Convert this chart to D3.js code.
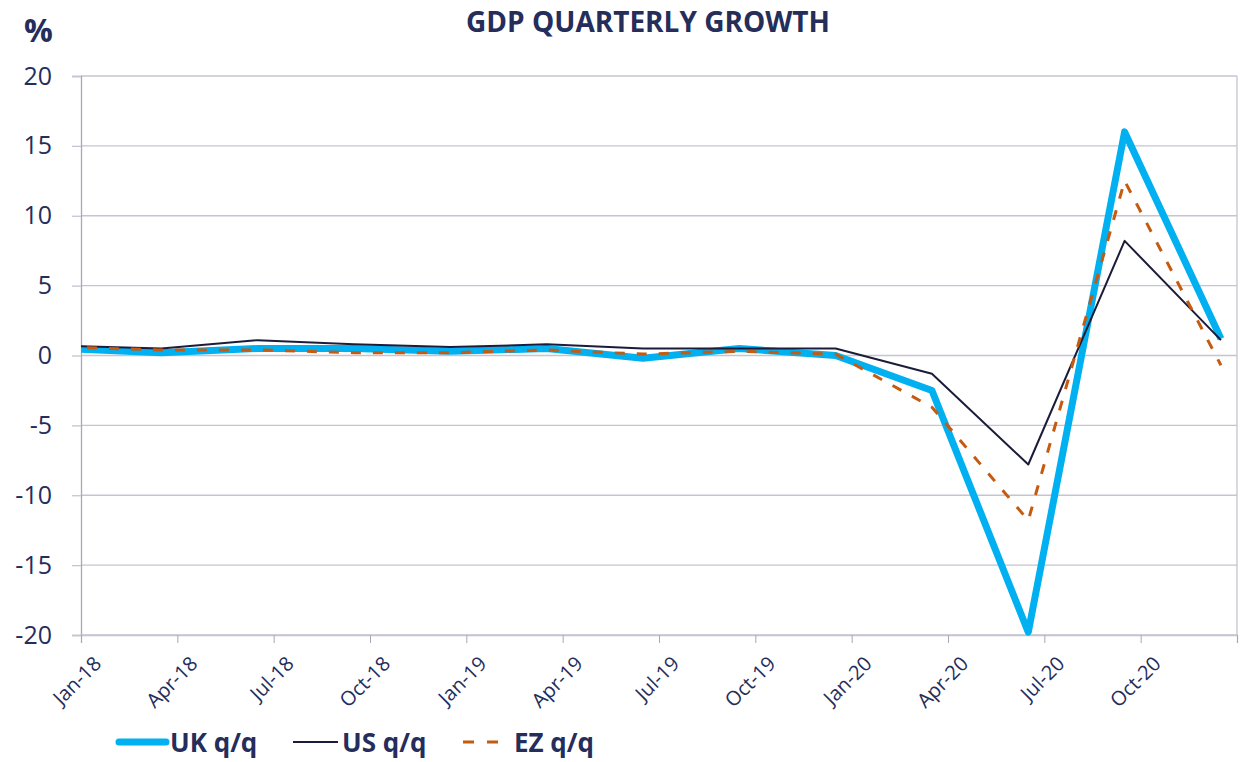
<!DOCTYPE html>
<html>
<head>
<meta charset="utf-8">
<script src="https://cdn.jsdelivr.net/npm/d3@7"></script>
<style>
  body { margin: 0; background: #fff; }
  text { font-family: "Open Sans", sans-serif; }
</style>
</head>
<body>
<div class="chart"></div>
<script>
// quarter-end observations (first one lies just before the axis start)
var quarters = ["Dec-17", "Mar-18", "Jun-18", "Sep-18", "Dec-18", "Mar-19", "Jun-19",
  "Sep-19", "Dec-19", "Mar-20", "Jun-20", "Sep-20", "Dec-20"];
var ukValues = [0.5, 0.2, 0.5, 0.5, 0.3, 0.5, -0.2, 0.5, 0.0, -2.5, -19.8, 16.0, 1.2];
var usValues = [0.7, 0.5, 1.1, 0.8, 0.6, 0.8, 0.5, 0.5, 0.5, -1.3, -7.8, 8.2, 1.1];
var ezValues = [0.6, 0.4, 0.4, 0.2, 0.2, 0.4, 0.1, 0.3, 0.1, -3.7, -11.8, 12.5, -0.7];
var seriesNames = ["UK q/q", "US q/q", "EZ q/q"];
var yTicks = [-20, -15, -10, -5, 0, 5, 10, 15, 20];
var xTickLabels = ["Jan-18", "Apr-18", "Jul-18", "Oct-18", "Jan-19", "Apr-19",
  "Jul-19", "Oct-19", "Jan-20", "Apr-20", "Jul-20", "Oct-20"];

var width = 1245, height = 762;
var margin = { top: 76, right: 8, bottom: 127, left: 81 };
var navy = "#252d5a";
var gridColor = "#c4c4d2";

var parseMonth = d3.timeParse("%b-%y");
function monthIndex(s) {
  var d = parseMonth(s);
  return (d.getFullYear() - 2018) * 12 + d.getMonth();
}

var svg = d3.select(".chart")
  .append("svg")
  .attr("width", width)
  .attr("height", height);

var x = d3.scaleLinear().domain([0, 36]).range([margin.left, width - margin.right]);
var y = d3.scaleLinear().domain([-20, 20]).range([height - margin.bottom, margin.top]);

// gridlines
svg.append("g")
  .selectAll("line")
  .data(yTicks)
  .enter()
  .append("line")
  .attr("x1", x(0))
  .attr("x2", x(36))
  .attr("y1", function (d) { return y(d); })
  .attr("y2", function (d) { return y(d); })
  .style("stroke", gridColor)
  .style("stroke-width", 1.3);

// right border
svg.append("line")
  .attr("x1", x(36)).attr("x2", x(36))
  .attr("y1", y(20)).attr("y2", y(-20))
  .style("stroke", gridColor)
  .style("stroke-width", 1.3);

// y axis
var yAxis = svg.append("g")
  .attr("transform", "translate(" + x(0) + ",0)")
  .call(d3.axisLeft(y).tickValues(yTicks).tickSize(9).tickPadding(20)
    .tickFormat(function (d) { return String(d); }));
yAxis.select(".domain").style("stroke", "#a8a8b8").style("stroke-width", 1.3);
yAxis.selectAll(".tick line").style("stroke", gridColor).style("stroke-width", 1.3);
yAxis.selectAll("text")
  .style("font-size", "25px")
  .style("fill", navy)
  .style("font-family", "'Open Sans', sans-serif");

// x axis
var xTickVals = d3.range(0, 37, 3);
var xAxis = svg.append("g")
  .attr("transform", "translate(0," + y(-20) + ")")
  .call(d3.axisBottom(x).tickValues(xTickVals).tickSize(8)
    .tickFormat(function (d, i) { return xTickLabels[i] || ""; }));
xAxis.select(".domain").style("stroke", gridColor).style("stroke-width", 1.3);
xAxis.selectAll(".tick line").style("stroke", "#a8a8b8");
xAxis.selectAll("text")
  .style("font-size", "20px")
  .style("font-family", "'Open Sans', sans-serif")
  .style("fill", navy)
  .style("text-anchor", "end")
  .attr("dy", null)
  .attr("y", 0)
  .attr("transform", "translate(21,30) rotate(-45)");

// clip to plot area
svg.append("clipPath")
  .attr("id", "plot")
  .append("rect")
  .attr("x", x(0))
  .attr("y", 0)
  .attr("width", x(36) - x(0))
  .attr("height", height);

var line = d3.line()
  .x(function (d) { return x(monthIndex(d.q) + 0.5); })
  .y(function (d) { return y(d.v); });

function rows(values) {
  return quarters.map(function (q, i) { return { q: q, v: values[i] }; });
}

var series = [
  { name: seriesNames[0], values: ukValues, color: "#00b0f0", width: 7, dash: null },
  { name: seriesNames[1], values: usValues, color: "#1b1c3a", width: 2, dash: null },
  { name: seriesNames[2], values: ezValues, color: "#c55a11", width: 3, dash: "10,12" }
];

var lines = svg.append("g").attr("clip-path", "url(#plot)");
series.forEach(function (s) {
  lines.append("path")
    .datum(rows(s.values))
    .attr("d", line)
    .style("fill", "none")
    .style("stroke", s.color)
    .style("stroke-width", s.width)
    .style("stroke-linejoin", "round")
    .style("stroke-dasharray", s.dash);
});

// title
svg.append("text")
  .attr("x", 648)
  .attr("y", 32)
  .style("text-anchor", "middle")
  .style("font-size", "28px")
  .style("font-weight", "bold")
  .style("fill", navy)
  .text("GDP QUARTERLY GROWTH");

svg.append("text")
  .attr("x", 24)
  .attr("y", 42)
  .style("font-size", "32px")
  .style("font-weight", "bold")
  .style("fill", navy)
  .text("%");

// legend
var legendItems = [
  { s: series[0], x1: 119, x2: 166, tx: 170, cap: "round" },
  { s: series[1], x1: 293, x2: 338, tx: 342, cap: "butt" },
  { s: series[2], x1: 463, x2: 500, tx: 514, cap: "butt" }
];
var legend = svg.append("g");
legendItems.forEach(function (d) {
  legend.append("line")
    .attr("x1", d.x1).attr("x2", d.x2)
    .attr("y1", 742).attr("y2", 742)
    .style("stroke", d.s.color)
    .style("stroke-width", d.s.width)
    .style("stroke-linecap", d.cap)
    .style("stroke-dasharray", d.s.dash ? "11,13" : null);
  legend.append("text")
    .attr("x", d.tx)
    .attr("y", 752)
    .style("font-size", "26px")
    .style("font-weight", "bold")
    .style("fill", navy)
    .text(d.s.name);
});
</script>
</body>
</html>
